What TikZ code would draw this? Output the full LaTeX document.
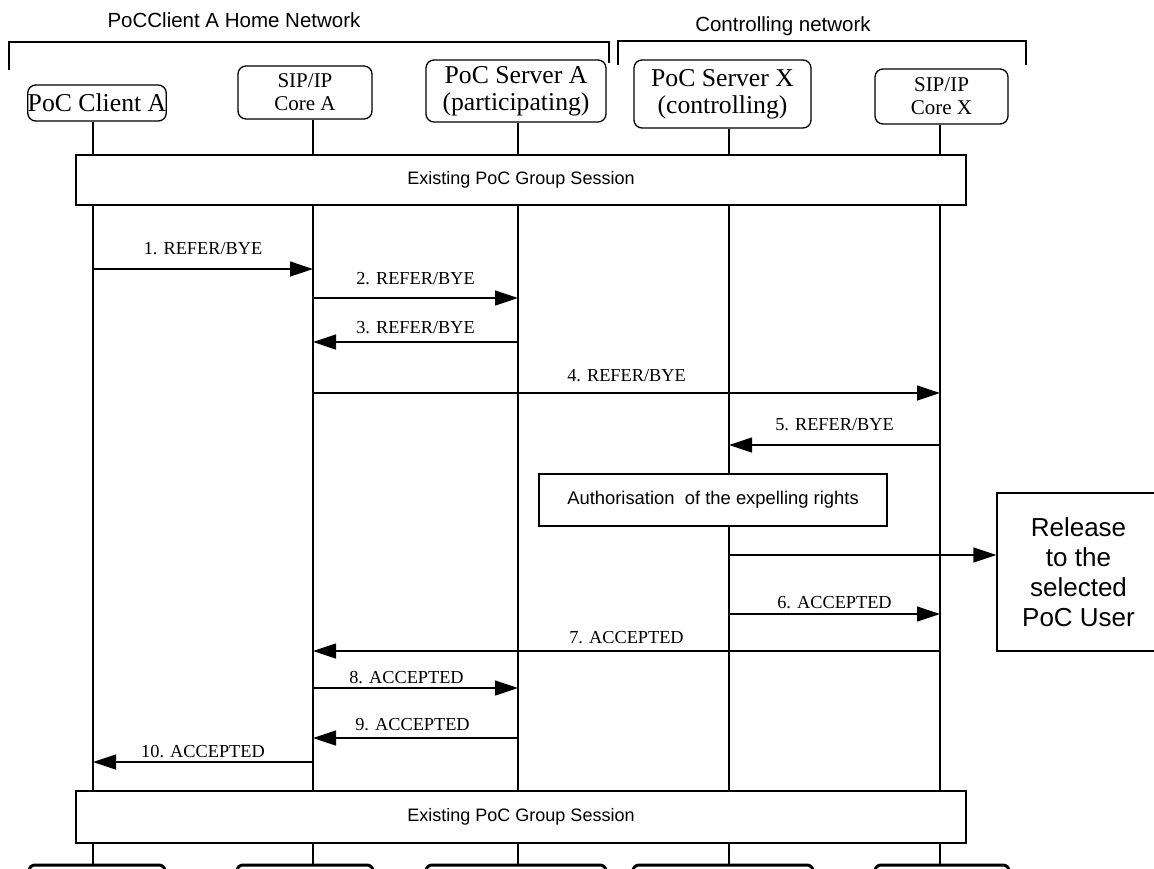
\documentclass[tikz,border=0pt]{standalone}
\usepackage{fontspec}
\setmainfont{Liberation Serif}
\setsansfont{Liberation Sans}
\usetikzlibrary{arrows.meta}
\begin{document}
\begin{tikzpicture}[x=1pt,y=-1pt,
 every node/.style={inner sep=0pt},
 ent/.style={draw,line width=1.3pt,rounded corners=8pt,align=center,fill=white},
 entbig/.style={ent,font=\fontsize{25.7}{27}\selectfont},
 entsmall/.style={ent,font=\fontsize{21}{23}\selectfont},
 endbox/.style={draw,line width=3pt,rounded corners=6pt,minimum height=40pt},
 life/.style={line width=1.3pt},
 sess/.style={draw,line width=1.3pt,fill=white,font=\sffamily\fontsize{18}{20}\selectfont},
 msg/.style={line width=1.3pt,-{Triangle[length=23pt,width=15pt]}},
 lbl/.style={font=\fontsize{18.3}{20}\selectfont,text height=12pt,text depth=0pt},
 net/.style={font=\sffamily\fontsize{20.5}{24}\selectfont},
 brk/.style={line width=1.3pt}]
\useasboundingbox (0,0) rectangle (1154,868);
\clip (0,0) rectangle (1154,868);
\fill[white] (0,0) rectangle (1154,868);

% network brackets
\node[net] (hn) at (234,20) {PoCClient A Home Network};
\node[net] (cn) at (783,26) {Controlling network};
\coordinate (hb1) at (9,70);
\coordinate (hb2) at (9,42);
\coordinate (hb3) at (609,42);
\coordinate (hb4) at (609,63);
\draw[brk] (hb1) -- (hb2) -- (hb3) -- (hb4);
\coordinate (cb1) at (618,65);
\coordinate (cb2) at (618,41);
\coordinate (cb3) at (1026,41);
\coordinate (cb4) at (1026,65);
\draw[brk] (cb1) -- (cb2) -- (cb3) -- (cb4);

% lifeline x positions
\coordinate (L1) at (93,0);
\coordinate (L2) at (313,0);
\coordinate (L3) at (518,0);
\coordinate (L4) at (729,0);
\coordinate (L5) at (940,0);

% top entities
\node[entbig, minimum width=134pt, minimum height=36pt] (ca) at (97,103) {PoC Client A};
\node[entsmall, minimum width=134pt, minimum height=53pt] (cA) at (305,92.5) {SIP/IP\\Core A};
\node[entbig, minimum width=180pt, minimum height=62pt] (sA) at (516,91) {PoC Server A\\(participating)};
\node[entbig, minimum width=177pt, minimum height=68pt] (sX) at (722.5,94) {PoC Server X\\(controlling)};
\node[entsmall, minimum width=133pt, minimum height=55pt] (cX) at (941.5,96.5) {SIP/IP\\Core X};

% bottom entities (cut off)
\node[endbox, minimum width=136pt] (caB) at (97,885) {};
\node[endbox, minimum width=136pt] (cAB) at (305,885) {};
\node[endbox, minimum width=180pt] (sAB) at (516,885) {};
\node[endbox, minimum width=180pt] (sXB) at (723,885) {};
\node[endbox, minimum width=134pt] (cXB) at (942,885) {};

% lifelines
\draw[life] (L1 |- ca.south) -- (L1 |- caB.north);
\draw[life] (L2 |- cA.south) -- (L2 |- cAB.north);
\draw[life] (L3 |- sA.south) -- (L3 |- sAB.north);
\draw[life] (L4 |- sX.south) -- (L4 |- sXB.north);
\draw[life] (L5 |- cX.south) -- (L5 |- cXB.north);

% session boxes
\node[sess, minimum width=890pt, minimum height=50pt] (s1) at (521,180) {Existing PoC Group Session};
\node[sess, minimum width=890pt, minimum height=52pt] (s2) at (521,817) {Existing PoC Group Session};

% messages
\draw[msg] (L1 |- 0,269) -- node[lbl,yshift=21pt]{1. REFER/BYE} (L2 |- 0,269);
\draw[msg] (L2 |- 0,298) -- node[lbl,yshift=20pt]{2. REFER/BYE} (L3 |- 0,298);
\draw[msg] (L3 |- 0,342) -- node[lbl,yshift=15pt]{3. REFER/BYE} (L2 |- 0,342);
\draw[msg] (L2 |- 0,393) -- node[lbl,yshift=18pt]{4. REFER/BYE} (L5 |- 0,393);
\draw[msg] (L5 |- 0,445) -- node[lbl,yshift=21pt]{5. REFER/BYE} (L4 |- 0,445);

% authorisation box
\node[draw,line width=1.3pt,fill=white,minimum width=348pt,minimum height=52pt,
      font=\sffamily\fontsize{18.4}{20}\selectfont] (auth) at (713,500)
      {Authorisation~ of the expelling rights};

% release box
\node[draw,line width=1.3pt,fill=white,minimum width=163pt,minimum height=158pt,
      align=center,font=\sffamily\fontsize{26}{30}\selectfont] (rel) at (1078.5,572)
      {Release\\to the\\selected\\PoC User};
\draw[msg] (L4 |- 0,555) -- (rel.west |- 0,555);

\draw[msg] (L4 |- 0,614) -- node[lbl,yshift=12pt]{6. ACCEPTED} (L5 |- 0,614);
\draw[msg] (L5 |- 0,651) -- node[lbl,yshift=14pt]{7. ACCEPTED} (L2 |- 0,651);
\draw[msg] (L2 |- 0,688) -- node[lbl,yshift=11pt,xshift=-9pt]{8. ACCEPTED} (L3 |- 0,688);
\draw[msg] (L3 |- 0,738) -- node[lbl,yshift=14pt,xshift=-3pt]{9. ACCEPTED} (L2 |- 0,738);
\draw[msg] (L2 |- 0,762) -- node[lbl,yshift=11pt]{10. ACCEPTED} (L1 |- 0,762);
\end{tikzpicture}
\end{document}
